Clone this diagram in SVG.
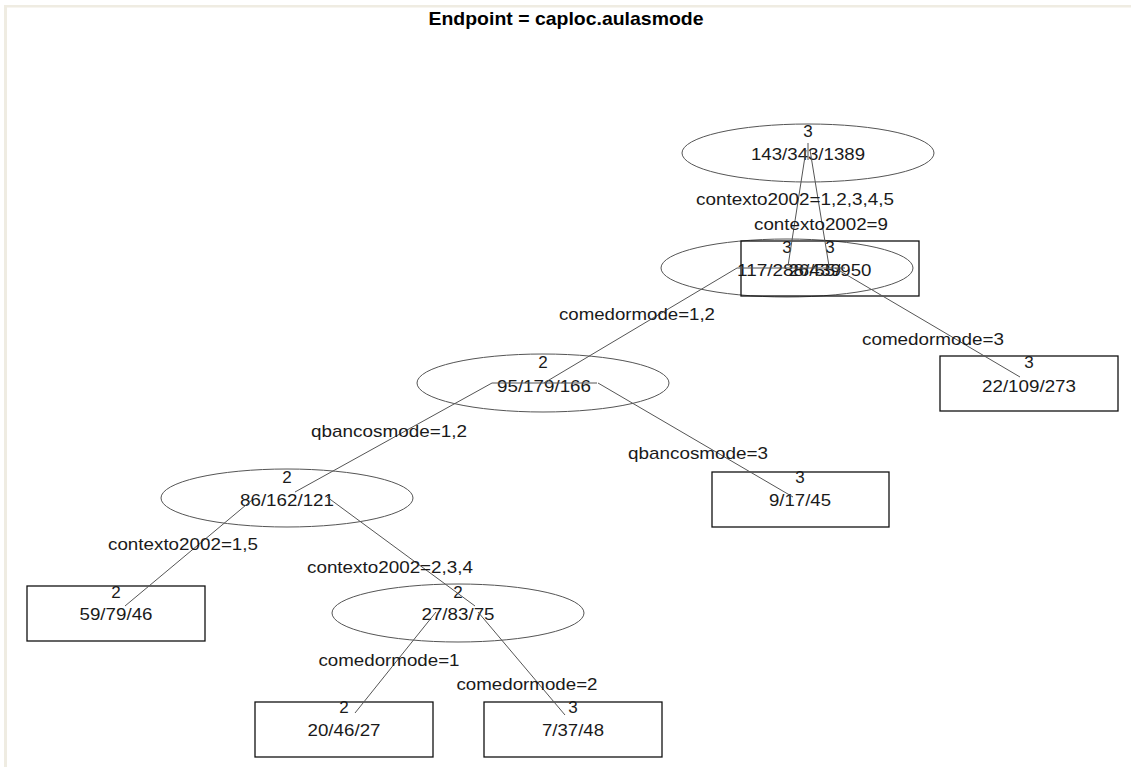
<svg xmlns="http://www.w3.org/2000/svg" width="1131" height="767" viewBox="0 0 1131 767">
<style>
text{font-family:"Liberation Sans",Arial,sans-serif;font-size:17px;fill:#1a1a1a;text-anchor:middle}
.title{font-weight:bold;font-size:18.5px;fill:#000}
.ell{fill:none;stroke:#555;stroke-width:1}
.box{fill:none;stroke:#111;stroke-width:1.3}
.edge line{stroke:#555;stroke-width:1}
</style>
<rect x="0" y="0" width="1131" height="767" fill="#fff"/>
<rect x="4" y="5" width="1127" height="2.5" fill="#efece2"/>
<rect x="4" y="5" width="3" height="762" fill="#efece2"/>
<text class="title" x="566" y="25" textLength="275" lengthAdjust="spacingAndGlyphs">Endpoint = caploc.aulasmode</text>

<g id="n1"><ellipse class="ell" cx="808" cy="153" rx="126" ry="29"/><text x="808" y="137">3</text><text x="808" y="160" textLength="114" lengthAdjust="spacingAndGlyphs">143/343/1389</text></g>
<g id="n2"><ellipse class="ell" cx="787" cy="268" rx="126" ry="29"/><text x="787" y="253">3</text><text x="789" y="276" textLength="104" lengthAdjust="spacingAndGlyphs">117/288/439</text></g>
<g id="n3"><rect class="box" x="741" y="241" width="178" height="55"/><text x="830" y="253">3</text><text x="830" y="276" textLength="83" lengthAdjust="spacingAndGlyphs">26/55/950</text></g>
<g id="n4"><ellipse class="ell" cx="543" cy="383" rx="126" ry="29"/><text x="543" y="368">2</text><text x="544" y="392" textLength="94" lengthAdjust="spacingAndGlyphs">95/179/166</text></g>
<g id="n5"><rect class="box" x="940" y="356" width="178" height="55"/><text x="1029" y="368">3</text><text x="1029" y="392" textLength="94" lengthAdjust="spacingAndGlyphs">22/109/273</text></g>
<g id="n6"><ellipse class="ell" cx="287" cy="498" rx="126" ry="29"/><text x="287" y="483">2</text><text x="287" y="506" textLength="94" lengthAdjust="spacingAndGlyphs">86/162/121</text></g>
<g id="n7"><rect class="box" x="712" y="472" width="177" height="55"/><text x="800" y="483">3</text><text x="800" y="506" textLength="62" lengthAdjust="spacingAndGlyphs">9/17/45</text></g>
<g id="n8"><rect class="box" x="27" y="586" width="178" height="55"/><text x="116" y="598">2</text><text x="116" y="620" textLength="73" lengthAdjust="spacingAndGlyphs">59/79/46</text></g>
<g id="n9"><ellipse class="ell" cx="458" cy="613" rx="126" ry="29"/><text x="458" y="598">2</text><text x="458" y="620" textLength="73" lengthAdjust="spacingAndGlyphs">27/83/75</text></g>
<g id="n10"><rect class="box" x="255" y="702" width="178" height="55"/><text x="344" y="713">2</text><text x="344" y="736" textLength="73" lengthAdjust="spacingAndGlyphs">20/46/27</text></g>
<g id="n11"><rect class="box" x="484" y="702" width="178" height="55"/><text x="573" y="713">3</text><text x="573" y="736" textLength="62" lengthAdjust="spacingAndGlyphs">7/37/48</text></g>

<g id="edges" class="edge">
<line x1="808" y1="143" x2="808" y2="160"/>
<line x1="806" y1="150" x2="788" y2="266"/>
<line x1="810" y1="150" x2="829" y2="266"/>
<line x1="737" y1="268" x2="845" y2="268"/>
<line x1="737" y1="268" x2="544" y2="383"/>
<line x1="835" y1="268" x2="1020" y2="377"/>
<line x1="492" y1="383" x2="597" y2="383"/>
<line x1="492" y1="383" x2="295" y2="492"/>
<line x1="598" y1="383" x2="793" y2="497"/>
<line x1="252" y1="500" x2="125" y2="606"/>
<line x1="327" y1="497" x2="475" y2="606"/>
<line x1="436" y1="612" x2="355" y2="713"/>
<line x1="478" y1="612" x2="565" y2="715"/>
</g>

<g id="labels">
<text x="795" y="205" textLength="198" lengthAdjust="spacingAndGlyphs">contexto2002=1,2,3,4,5</text>
<text x="821" y="230" textLength="134" lengthAdjust="spacingAndGlyphs">contexto2002=9</text>
<text x="637" y="320" textLength="156" lengthAdjust="spacingAndGlyphs">comedormode=1,2</text>
<text x="933" y="345" textLength="142" lengthAdjust="spacingAndGlyphs">comedormode=3</text>
<text x="389" y="437" textLength="156" lengthAdjust="spacingAndGlyphs">qbancosmode=1,2</text>
<text x="698" y="459" textLength="140" lengthAdjust="spacingAndGlyphs">qbancosmode=3</text>
<text x="183" y="550" textLength="150" lengthAdjust="spacingAndGlyphs">contexto2002=1,5</text>
<text x="390" y="573" textLength="166" lengthAdjust="spacingAndGlyphs">contexto2002=2,3,4</text>
<text x="389" y="666" textLength="141" lengthAdjust="spacingAndGlyphs">comedormode=1</text>
<text x="527" y="690" textLength="141" lengthAdjust="spacingAndGlyphs">comedormode=2</text>
</g>
</svg>
